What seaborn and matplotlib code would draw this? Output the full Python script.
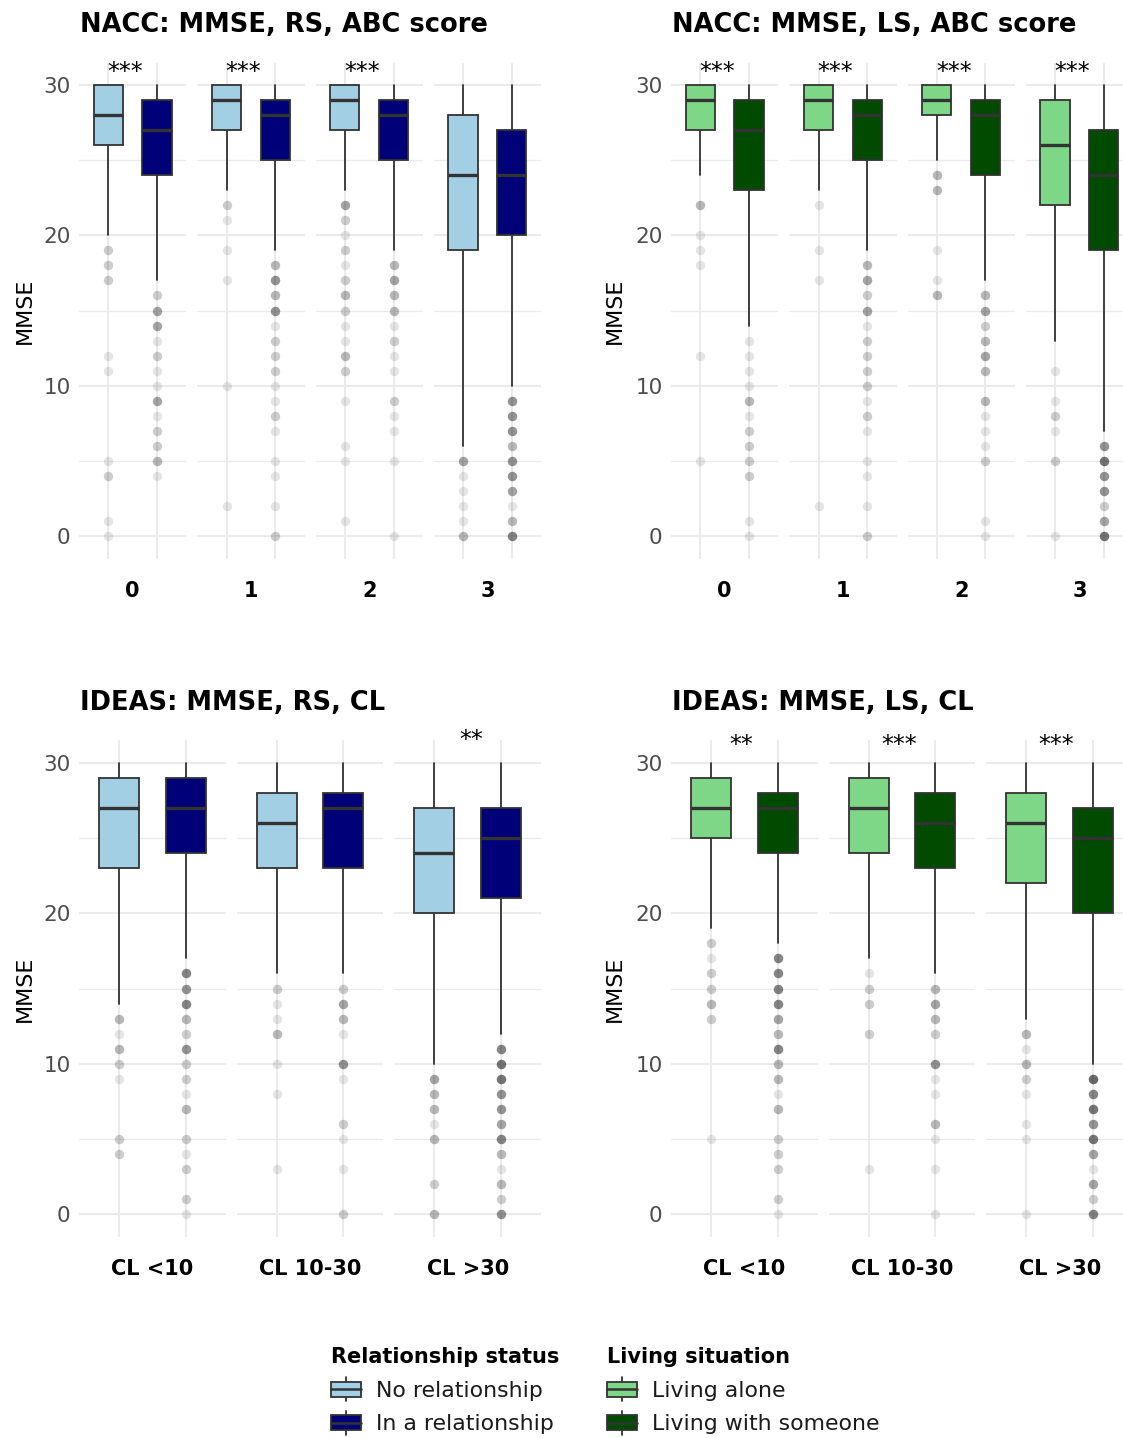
import matplotlib
matplotlib.use("Agg")
import matplotlib.pyplot as plt
import seaborn as sns
import pandas as pd
from matplotlib.legend_handler import HandlerBase
from matplotlib.patches import Rectangle, Patch
from matplotlib.lines import Line2D

# ---------------- data ----------------
nacc_levels = ["0", "1", "2", "3"]
ideas_levels = ["CL <10", "CL 10-30", "CL >30"]
rs_groups = ["No relationship", "In a relationship"]
ls_groups = ["Living alone", "Living with someone"]
rs_colors = ["#a2cfe4", "#000078"]
ls_colors = ["#7ed787", "#004b00"]

# each level: [group 1, group 2]
nacc_rs_whislo = [[20, 17], [23, 19], [23, 19], [6, 10]]
nacc_rs_q1 = [[26, 24], [27, 25], [27, 25], [19, 20]]
nacc_rs_med = [[28, 27], [29, 28], [29, 28], [24, 24]]
nacc_rs_q3 = [[30, 29], [30, 29], [30, 29], [28, 27]]
nacc_rs_whishi = [[30, 30], [30, 30], [30, 30], [30, 30]]
nacc_rs_stars = ["***", "***", "***", ""]
# outliers: (MMSE value, number of overlapping points)
nacc_rs_out = [
    [[(19, 2), (18, 2), (17, 2), (12, 1), (11, 1), (5, 1), (4, 2), (1, 1), (0, 1)],
     [(16, 2), (15, 4), (14, 4), (13, 1), (12, 2), (11, 1), (10, 1), (9, 4), (8, 1), (7, 2), (6, 2), (5, 3), (4, 1)]],
    [[(22, 2), (21, 1), (19, 1), (17, 1), (10, 1), (2, 1)],
     [(18, 3), (17, 5), (16, 3), (15, 5), (14, 1), (13, 2), (12, 2), (11, 2), (10, 1), (9, 1), (8, 2), (7, 1), (5, 1), (4, 1), (2, 1), (0, 2)]],
    [[(22, 4), (21, 2), (20, 1), (19, 2), (18, 1), (17, 2), (16, 3), (15, 2), (14, 1), (13, 1), (12, 3), (11, 2), (9, 1), (6, 1), (5, 1), (1, 1)],
     [(18, 3), (17, 4), (16, 3), (15, 3), (14, 1), (13, 2), (12, 1), (11, 1), (9, 2), (8, 1), (7, 1), (5, 1), (0, 1)]],
    [[(5, 4), (4, 1), (3, 1), (2, 1), (1, 1), (0, 3)],
     [(9, 5), (8, 5), (7, 5), (6, 3), (5, 5), (4, 5), (3, 4), (2, 1), (1, 3), (0, 6)]],
]

nacc_ls_whislo = [[24, 14], [23, 19], [25, 17], [13, 7]]
nacc_ls_q1 = [[27, 23], [27, 25], [28, 24], [22, 19]]
nacc_ls_med = [[29, 27], [29, 28], [29, 28], [26, 24]]
nacc_ls_q3 = [[30, 29], [30, 29], [30, 29], [29, 27]]
nacc_ls_whishi = [[30, 30], [30, 30], [30, 30], [30, 30]]
nacc_ls_stars = ["***", "***", "***", "***"]
nacc_ls_out = [
    [[(22, 3), (20, 1), (19, 1), (18, 1), (12, 1), (5, 1)],
     [(13, 1), (12, 1), (11, 1), (10, 1), (9, 3), (8, 1), (7, 2), (6, 2), (5, 2), (4, 2), (1, 1), (0, 1)]],
    [[(22, 1), (19, 1), (17, 1), (2, 1)],
     [(18, 3), (17, 4), (16, 2), (15, 4), (14, 1), (13, 2), (12, 2), (11, 2), (10, 2), (9, 1), (8, 2), (7, 1), (5, 1), (4, 1), (2, 1), (0, 2)]],
    [[(24, 3), (23, 3), (19, 1), (17, 1), (16, 3)],
     [(16, 3), (15, 4), (14, 2), (13, 3), (12, 4), (11, 3), (9, 3), (8, 1), (7, 1), (6, 1), (5, 2), (1, 1), (0, 1)]],
    [[(11, 1), (9, 1), (8, 2), (7, 1), (5, 2), (0, 1)],
     [(6, 5), (5, 7), (4, 5), (3, 5), (2, 2), (1, 4), (0, 7)]],
]

ideas_rs_whislo = [[14, 17], [16, 16], [10, 12]]
ideas_rs_q1 = [[23, 24], [23, 23], [20, 21]]
ideas_rs_med = [[27, 27], [26, 27], [24, 25]]
ideas_rs_q3 = [[29, 29], [28, 28], [27, 27]]
ideas_rs_whishi = [[30, 30], [30, 30], [30, 30]]
ideas_rs_stars = ["", "", "**"]
ideas_rs_out = [
    [[(13, 3), (12, 1), (11, 3), (10, 2), (9, 1), (5, 2), (4, 2)],
     [(16, 6), (15, 5), (14, 6), (13, 3), (12, 2), (11, 5), (10, 2), (9, 2), (8, 1), (7, 3), (5, 2), (4, 1), (3, 2), (1, 2), (0, 1)]],
    [[(15, 2), (14, 1), (13, 1), (12, 3), (10, 1), (8, 1), (3, 1)],
     [(15, 2), (14, 4), (13, 3), (12, 1), (10, 5), (9, 1), (6, 2), (5, 1), (3, 1), (0, 2)]],
    [[(9, 4), (8, 3), (7, 3), (6, 1), (5, 3), (2, 2), (0, 3)],
     [(11, 6), (10, 7), (9, 7), (8, 5), (7, 5), (6, 4), (5, 6), (4, 3), (3, 1), (2, 3), (1, 2), (0, 5)]],
]

ideas_ls_whislo = [[19, 18], [17, 16], [13, 10]]
ideas_ls_q1 = [[25, 24], [24, 23], [22, 20]]
ideas_ls_med = [[27, 27], [27, 26], [26, 25]]
ideas_ls_q3 = [[29, 28], [29, 28], [28, 27]]
ideas_ls_whishi = [[30, 30], [30, 30], [30, 30]]
ideas_ls_stars = ["**", "***", "***"]
ideas_ls_out = [
    [[(18, 2), (17, 1), (16, 2), (15, 2), (14, 3), (13, 2), (5, 1)],
     [(17, 6), (16, 6), (15, 6), (14, 6), (13, 4), (12, 3), (11, 6), (10, 3), (9, 3), (8, 1), (7, 3), (5, 2), (4, 2), (3, 2), (1, 2), (0, 1)]],
    [[(16, 1), (15, 2), (14, 2), (12, 2), (3, 1)],
     [(15, 3), (14, 4), (13, 3), (12, 2), (10, 5), (9, 1), (8, 1), (6, 3), (5, 1), (3, 1), (0, 1)]],
    [[(12, 3), (11, 1), (10, 3), (9, 2), (8, 1), (6, 1), (5, 1), (0, 1)],
     [(9, 8), (8, 6), (7, 7), (6, 5), (5, 7), (4, 4), (3, 1), (2, 4), (1, 2), (0, 6)]],
]

titles = ["NACC: MMSE, RS, ABC score", "NACC: MMSE, LS, ABC score",
          "IDEAS: MMSE, RS, CL", "IDEAS: MMSE, LS, CL"]

# ---------------- style ----------------
sns.set_theme(style="whitegrid")
plt.rcParams["font.family"] = ["DejaVu Sans"]

W, H = 1123, 1438
fig = plt.figure(figsize=(W / 100, H / 100), dpi=100)
EDGE = "#333333"
GRID = "#ebebeb"


def px_axes(x0, y0, w, h):
    return fig.add_axes([x0 / W, 1 - (y0 + h) / H, w / W, h / H])


def draw_panel(left, top, levels, colors, whislo, q1, med, q3, whishi, outs,
               stars, title, star_x, star_y, ylab_x):
    n = len(levels)
    gap = 11
    fw = (462 - (n - 1) * gap) / n
    ph = 496
    fig.text((left + 1) / W, 1 - (top - 37) / H, title, fontsize=18.5,
             fontweight="bold", va="center", ha="left", color="black")
    fig.text(ylab_x / W, 1 - (top + ph / 2) / H, "MMSE", rotation=90,
             fontsize=16, va="center", ha="center", color="black")
    for i, lev in enumerate(levels):
        ax = px_axes(left + i * (fw + gap), top, fw, ph)
        ax.set_xlim(0.4, 2.6)
        ax.set_ylim(-1.5, 31.5)
        ax.set_axisbelow(True)
        ax.set_yticks([0, 10, 20, 30])
        ax.set_yticks([5, 15, 25], minor=True)
        ax.set_xticks([1, 2])
        ax.grid(which="major", color=GRID, linewidth=1.5)
        ax.grid(which="minor", axis="y", color=GRID, linewidth=0.9)
        ax.set_facecolor("white")
        for sp in ax.spines.values():
            sp.set_visible(False)
        ax.tick_params(which="both", length=0)
        ax.set_xticklabels([])
        if i == 0:
            ax.tick_params(axis="y", labelsize=15.5, labelcolor="#4d4d4d", pad=6)
        else:
            ax.set_yticklabels([])
        # outliers (overlapping semi-transparent points)
        xs, ys = [], []
        for g in range(2):
            for val, cnt in outs[i][g]:
                xs += [g + 1] * cnt
                ys += [val] * cnt
        df = pd.DataFrame({"x": xs, "y": ys})
        sns.scatterplot(data=df, x="x", y="y", color="black", alpha=0.1, s=46,
                        linewidth=0, ax=ax, legend=False, zorder=2)
        stats = [dict(whislo=whislo[i][g], q1=q1[i][g], med=med[i][g],
                      q3=q3[i][g], whishi=whishi[i][g], fliers=[]) for g in range(2)]
        bp = ax.bxp(stats, positions=[1, 2], widths=0.6, patch_artist=True,
                    showcaps=False, showfliers=False, manage_ticks=False,
                    boxprops=dict(edgecolor=EDGE, linewidth=1.3),
                    medianprops=dict(color=EDGE, linewidth=2.4, solid_capstyle="butt"),
                    whiskerprops=dict(color=EDGE, linewidth=1.3))
        for patch, c in zip(bp["boxes"], colors):
            patch.set_facecolor(c)
            patch.set_zorder(3)
        for ln in bp["medians"]:
            ln.set_zorder(4)
        ax.set_xlabel(lev, fontsize=15, fontweight="bold", color="black", labelpad=13)
        ax.set_ylabel("")
        if stars[i]:
            ax.text(star_x, star_y, stars[i], ha="center", va="center",
                    fontsize=17, color="black", clip_on=False)


draw_panel(79, 62.5, nacc_levels, rs_colors, nacc_rs_whislo, nacc_rs_q1, nacc_rs_med,
           nacc_rs_q3, nacc_rs_whishi, nacc_rs_out, nacc_rs_stars, titles[0], 1.35, 30.9, 25)
draw_panel(671, 62.5, nacc_levels, ls_colors, nacc_ls_whislo, nacc_ls_q1, nacc_ls_med,
           nacc_ls_q3, nacc_ls_whishi, nacc_ls_out, nacc_ls_stars, titles[1], 1.35, 30.9, 615)
draw_panel(79, 740.5, ideas_levels, rs_colors, ideas_rs_whislo, ideas_rs_q1, ideas_rs_med,
           ideas_rs_q3, ideas_rs_whishi, ideas_rs_out, ideas_rs_stars, titles[2], 1.55, 31.5, 25)
draw_panel(671, 740.5, ideas_levels, ls_colors, ideas_ls_whislo, ideas_ls_q1, ideas_ls_med,
           ideas_ls_q3, ideas_ls_whishi, ideas_ls_out, ideas_ls_stars, titles[3], 1.45, 31.2, 615)


# ---------------- legends ----------------
class BoxKey(HandlerBase):
    def create_artists(self, legend, orig_handle, xdescent, ydescent, width,
                       height, fontsize, trans):
        fc = orig_handle.get_facecolor()
        x0, y0 = -xdescent, -ydescent
        bh = height * 0.68
        by = y0 + (height - bh) / 2
        cx = x0 + width / 2
        w1 = Line2D([cx, cx], [by + bh, by + bh + height * 0.2], color=EDGE,
                    lw=1.3, transform=trans)
        w2 = Line2D([cx, cx], [by, by - height * 0.2], color=EDGE, lw=1.3,
                    transform=trans)
        rect = Rectangle((x0, by), width, bh, facecolor=fc, edgecolor=EDGE,
                         lw=1.3, transform=trans)
        med = Line2D([x0, x0 + width], [y0 + height / 2] * 2, color=EDGE,
                     lw=1.8, transform=trans)
        return [w1, w2, rect, med]


def add_legend(x_px, groups, colors, title):
    handles = [Patch(facecolor=c, edgecolor=EDGE) for c in colors]
    leg = fig.legend(handles, groups, title=title, loc="upper left",
                     bbox_to_anchor=(x_px / W, 1 - 1347 / H), frameon=False,
                     fontsize=15.8, title_fontproperties={"weight": "bold", "size": 15},
                     alignment="left", handler_map={Patch: BoxKey()},
                     handlelength=1.35, handleheight=1.2, handletextpad=0.7,
                     labelspacing=0.5, borderpad=0, borderaxespad=0)
    leg.get_title().set_color("black")
    for t in leg.get_texts():
        t.set_color("#1a1a1a")
    return leg


add_legend(331, rs_groups, rs_colors, "Relationship status")
add_legend(607, ls_groups, ls_colors, "Living situation")

fig.savefig("out.png", dpi=100, facecolor="white")
